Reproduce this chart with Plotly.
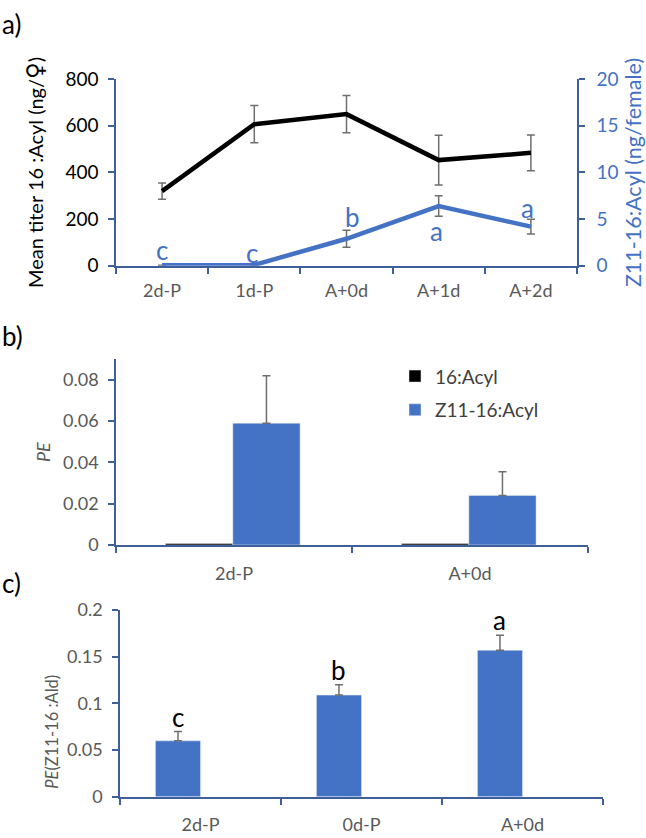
import plotly.graph_objects as go

# ---------------- data ----------------
days_a = ["2d-P", "1d-P", "A+0d", "A+1d", "A+2d"]
acyl16_titer = [320, 607, 650, 453, 484]
acyl16_err = [35, 80, 80, 107, 77]
z11_titer = [0.05, 0.1, 2.9, 6.4, 4.2]
z11_err = [0, 0, 0.9, 1.1, 0.8]
z11_letters = ["c", "c", "b", "a", "a"]

groups_b = ["2d-P", "A+0d"]
pe_16acyl = [0.0007, 0.0007]
pe_z11acyl = [0.059, 0.024]
pe_z11acyl_err = [0.023, 0.0115]

groups_c = ["2d-P", "0d-P", "A+0d"]
pe_ald = [0.060, 0.109, 0.157]
pe_ald_err = [0.010, 0.011, 0.016]
ald_letters = ["c", "b", "a"]

# ---------------- style ----------------
W, H = 646, 838
FONT = "Lato"
AX = "#3F5F99"
BLUE = "#4472C4"
GRAY = "#595959"
ERR = "#6E6E6E"

# where the significance letters of panel a sit (right-axis units / category shift)
letter_a_y = [1.7, 1.4, 5.2, 3.75, 6.2]
letter_a_dx = [0, -0.03, 0.06, -0.02, -0.04]
BAR_C_W = 0.28  # bar width in panel c (category units), bars sit left of centre


def dom_x(x0, x1):
    return [x0 / W, x1 / W]


def dom_y(top, bottom):
    return [1 - bottom / H, 1 - top / H]


fig = go.Figure()

# ---- panel a ----
fig.add_trace(go.Scatter(
    x=days_a, y=acyl16_titer, mode="lines",
    line=dict(color="black", width=4.5),
    error_y=dict(type="data", array=acyl16_err, color=ERR, thickness=1.5, width=4),
    xaxis="x", yaxis="y", showlegend=False))
fig.add_trace(go.Scatter(
    x=days_a, y=z11_titer, mode="lines",
    line=dict(color=BLUE, width=4.5),
    error_y=dict(type="data", array=z11_err, color=ERR, thickness=1.5, width=4),
    xaxis="x", yaxis="y2", showlegend=False))

for i, L in enumerate(z11_letters):
    fig.add_annotation(x=i + letter_a_dx[i], y=letter_a_y[i], xref="x", yref="y2",
                       text=L, showarrow=False, yanchor="middle",
                       font=dict(family=FONT, size=26, color=BLUE))

# ---- panel b ----
fig.add_trace(go.Bar(
    x=groups_b, y=pe_16acyl, name="16:Acyl",
    marker=dict(color="black"), width=0.285, offset=-0.29,
    xaxis="x2", yaxis="y3", legendgroup="g1"))
fig.add_trace(go.Bar(
    x=groups_b, y=pe_z11acyl, name="Z11-16:Acyl",
    marker=dict(color=BLUE), width=0.285, offset=-0.005,
    error_y=dict(type="data", array=pe_z11acyl_err, symmetric=False,
                 arrayminus=[0, 0], color=ERR, thickness=1.5, width=4),
    xaxis="x2", yaxis="y3", legendgroup="g2"))

# ---- panel c ----
fig.add_trace(go.Bar(
    x=groups_c, y=pe_ald, marker=dict(color=BLUE), width=BAR_C_W,
    offset=-BAR_C_W,
    error_y=dict(type="data", array=pe_ald_err, symmetric=False,
                 arrayminus=[0, 0, 0], color=ERR, thickness=1.5, width=4),
    xaxis="x3", yaxis="y4", showlegend=False))
for i, (v, e, L) in enumerate(zip(pe_ald, pe_ald_err, ald_letters)):
    fig.add_annotation(x=i - BAR_C_W / 2, y=v + e + 0.016, xref="x3", yref="y4",
                       text=L, showarrow=False, yanchor="middle",
                       font=dict(family=FONT, size=26, color="black"))

# panel c y-axis title
fig.add_annotation(x=52 / W, y=1 - 740 / H, xref="paper", yref="paper",
                   text="<i>PE</i>(Z11-16 :Ald)", textangle=-90, showarrow=False,
                   xanchor="center", yanchor="middle",
                   font=dict(family=FONT, size=16.5, color=GRAY))

# panel labels
for txt, ypx in [("a)", 12), ("b)", 333), ("c)", 587)]:
    fig.add_annotation(x=0, y=1 - ypx / H, xref="paper", yref="paper", text=txt,
                       showarrow=False, xanchor="left", yanchor="middle",
                       font=dict(family=FONT, size=26, color="black"))

common_x = dict(type="category", showgrid=False, showline=True, linecolor=AX,
                linewidth=1.5, ticks="outside", tickson="boundaries", ticklen=6,
                tickcolor=AX, tickwidth=1.5, zeroline=False,
                tickfont=dict(family=FONT, size=18, color=GRAY))
common_y = dict(showgrid=False, showline=True, linecolor=AX, linewidth=1.5,
                ticks="outside", ticklen=6, tickcolor=AX, tickwidth=1.5,
                zeroline=False, ticklabelstandoff=6,
                tickfont=dict(family=FONT, size=18, color=GRAY))

fig.update_layout(
    width=W, height=H, margin=dict(l=0, r=0, t=0, b=0),
    paper_bgcolor="white", plot_bgcolor="white",
    font=dict(family=FONT),
    barmode="group",
    xaxis=dict(common_x, domain=dom_x(116, 577), anchor="y", range=[-0.5, 4.5],
               ticklabelstandoff=8),
    yaxis=dict(common_y, domain=dom_y(69, 261), anchor="x", range=[0, 800],
               dtick=200, tickfont=dict(family=FONT, size=19, color="black"),
               title=dict(text="Mean titer 16 :Acyl (ng/<span style=\"font-family:'DejaVu Sans';font-size:23px\">\u2640</span>)",
                          standoff=16,
                          font=dict(family=FONT, size=20, color="black"))),
    yaxis2=dict(common_y, domain=dom_y(69, 261), anchor="x", overlaying="y",
                side="right", range=[0, 20], dtick=5, ticklabelstandoff=8,
                tickfont=dict(family=FONT, size=19, color=BLUE),
                title=dict(text="Z11-16:Acyl (ng/female)", standoff=8,
                           font=dict(family=FONT, size=21.5, color=BLUE))),
    xaxis2=dict(common_x, domain=dom_x(116, 588), anchor="y3", range=[-0.5, 1.5],
                ticklabelstandoff=12),
    yaxis3=dict(common_y, domain=dom_y(357, 548), anchor="x2", range=[0, 0.09],
                tickvals=[0, 0.02, 0.04, 0.06, 0.08],
                ticktext=["0", "0.02", "0.04", "0.06", "0.08"],
                title=dict(text="<i>PE</i>", standoff=8,
                           font=dict(family=FONT, size=18, color=GRAY))),
    xaxis3=dict(common_x, domain=dom_x(120, 603), anchor="y4", range=[-0.5, 2.5],
                ticklabelstandoff=11),
    yaxis4=dict(common_y, domain=dom_y(615, 807), anchor="x3", range=[0, 0.2],
                tickvals=[0, 0.05, 0.1, 0.15, 0.2],
                ticktext=["0", "0.05", "0.1", "0.15", "0.2"]),
    legend=dict(x=395 / W, y=1 - 355 / H, xanchor="left", yanchor="top",
                traceorder="grouped", tracegroupgap=6,
                font=dict(family=FONT, size=19, color="#404040"),
                bgcolor="rgba(0,0,0,0)"),
)

fig.write_html("out.html")
